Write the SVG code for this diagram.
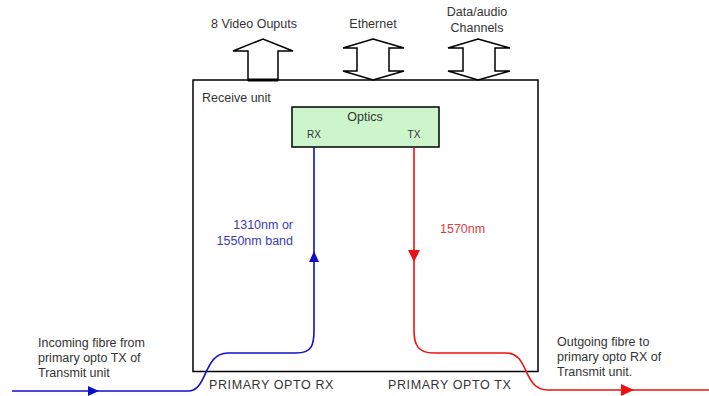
<svg xmlns="http://www.w3.org/2000/svg" width="709" height="396" viewBox="0 0 709 396">
<style>
.t{font-family:"Liberation Sans",Arial,sans-serif;font-size:12.5px;fill:#333}
.s{font-size:10px}
.c{letter-spacing:0.6px}
.blue{fill:#3a3ab8}
.red{fill:#e03a3a}
.arr{fill:#fff;stroke:#000;stroke-width:1.5;stroke-linejoin:miter}
.bl{fill:none;stroke:#1010cc;stroke-width:1.6}
.rl{fill:none;stroke:#ee1111;stroke-width:1.6}
</style>
<rect width="709" height="396" fill="#fff"/>
<g id="receive-unit">
<rect x="193" y="80" width="345" height="291.5" fill="#fff" stroke="#000" stroke-width="1.5"/>
<text class="t" x="202" y="102">Receive unit</text>
</g>
<g id="video-outputs">
<polygon class="arr" points="248,80 248,51 233,51 263,39 293,51 278,51 278,80"/>
<line x1="248" y1="80" x2="278" y2="80" stroke="#000" stroke-width="3"/>
<text class="t" x="254" y="28" text-anchor="middle">8 Video Ouputs</text>
</g>
<g id="ethernet">
<polygon class="arr" points="373,39 404,48 389,48 389,71 404,71 373,80 343,71 357,71 357,48 343,48"/>
<text class="t" x="373" y="28" text-anchor="middle">Ethernet</text>
</g>
<g id="data-audio">
<polygon class="arr" points="478,39 510,48 495,48 495,71 510,71 478,80 448,71 463,71 463,48 448,48"/>
<text class="t" x="477" y="16" text-anchor="middle">Data/audio</text>
<text class="t" x="477" y="32" text-anchor="middle">Channels</text>
</g>
<g id="optics">
<rect x="292" y="107" width="147" height="40" fill="#ccf5cc" stroke="#000" stroke-width="1.5"/>
<text class="t" x="365" y="121" text-anchor="middle">Optics</text>
<text class="t s" x="314" y="138" text-anchor="middle">RX</text>
<text class="t s" x="414" y="138" text-anchor="middle">TX</text>
</g>
<g id="connectors">
<path class="bl" d="M12,391 L188,391 C208,391 203,353 228,353 L296,353 C312,353 314,345 314,330 L314,147"/>
<polygon points="88,386 99,391 88,396" fill="#1010cc"/>
<polygon points="314,251 319,262 309,262" fill="#1010cc"/>
<path class="rl" d="M414,147 L414,330 C414,345 418,353 434,353 L506,353 C530,353 522,390 548,390 L709,390"/>
<polygon points="408,250 420,250 414,262" fill="#ee1111"/>
<polygon points="621,384 634,390 621,396" fill="#ee1111"/>
</g>
<g id="labels">
<text class="t blue" x="293" y="229" text-anchor="end">1310nm or</text>
<text class="t blue" x="293" y="245" text-anchor="end">1550nm band</text>
<text class="t red" x="440" y="233">1570nm</text>
<text class="t" x="38" y="347">Incoming fibre from</text>
<text class="t" x="38" y="362">primary opto TX of</text>
<text class="t" x="38" y="377">Transmit unit</text>
<text class="t" x="557" y="346">Outgoing fibre to</text>
<text class="t" x="557" y="361">primary opto RX of</text>
<text class="t" x="557" y="376">Transmit unit.</text>
<text class="t c" x="209" y="389">PRIMARY OPTO RX</text>
<text class="t c" x="388" y="389">PRIMARY OPTO TX</text>
</g>
</svg>
